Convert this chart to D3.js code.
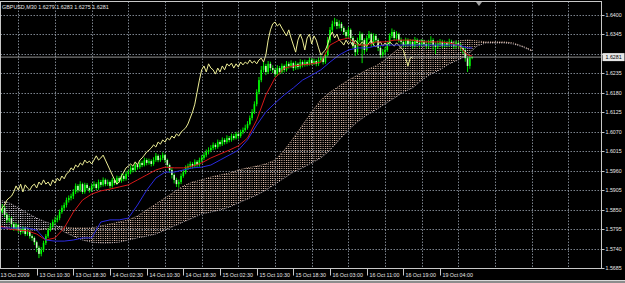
<!DOCTYPE html>
<html>
<head>
<meta charset="utf-8">
<script src="https://cdn.jsdelivr.net/npm/d3@7"></script>
<style>
  html, body { margin: 0; padding: 0; background: #000; }
  svg { display: block; }
  text { font-family: "Liberation Sans", Arial, sans-serif; }
</style>
</head>
<body>
<div id="chart"></div>
<script>
// ---- data (prices in pips, 1 pip = 0.0001) ----
const symbolTitle = 'GBPUSD,M30  1.6279 1.6283 1.6275 1.6281';
const bidPrice = 1.6281;
const priceLabels = ['1.6400', '1.6345', '1.6290', '1.6235', '1.6180', '1.6125', '1.6070',
  '1.6015', '1.5960', '1.5905', '1.5850', '1.5795', '1.5740', '1.5685'];
const timeLabels = ['13 Oct 2009', '13 Oct 10:30', '13 Oct 18:30', '14 Oct 02:30', '14 Oct 10:30',
  '14 Oct 18:30', '15 Oct 02:30', '15 Oct 10:30', '15 Oct 18:30', '16 Oct 03:00',
  '16 Oct 11:00', '16 Oct 19:00', '19 Oct 04:00'];
const barsPerLabel = 16;

const firstOpen = 15850;
const closes = [
  15843, 15855, 15835, 15821, 15826, 15809, 15798, 15807, 15792, 15787,
  15798, 15781, 15787, 15775, 15770, 15758, 15742, 15725, 15736, 15756,
  15775, 15792, 15804, 15815, 15821, 15826, 15843, 15855, 15863, 15877,
  15883, 15888, 15900, 15917, 15905, 15922, 15900, 15920, 15911, 15905,
  15917, 15922, 15911, 15928, 15920, 15934, 15922, 15928, 15917, 15934,
  15925, 15939, 15931, 15945, 15937, 15951, 15956, 15968, 15962, 15976,
  15970, 15982, 15976, 15990, 15982, 15987, 15979, 15990, 16002, 15990,
  15996, 16004, 15990, 15976, 15962, 15948, 15934, 15922, 15928, 15945,
  15956, 15968, 15973, 15979, 15973, 15985, 15976, 15990, 15996, 16004,
  16013, 16018, 16024, 16033, 16027, 16041, 16035, 16047, 16041, 16052,
  16047, 16058, 16052, 16064, 16058, 16069, 16075, 16081, 16092, 16109,
  16126, 16148, 16182, 16216, 16245, 16256, 16239, 16262, 16250, 16245,
  16233, 16250, 16239, 16256, 16245, 16262, 16256, 16264, 16250, 16262,
  16253, 16267, 16259, 16267, 16262, 16273, 16264, 16270, 16262, 16273,
  16278, 16267, 16287, 16329, 16358, 16375, 16380, 16369, 16375, 16363,
  16352, 16341, 16358, 16335, 16315, 16295, 16329, 16346, 16329, 16301,
  16335, 16346, 16318, 16341, 16329, 16307, 16287, 16295, 16301, 16318,
  16341, 16352, 16335, 16346, 16329, 16324, 16315, 16329, 16318, 16324,
  16312, 16329, 16321, 16315, 16324, 16318, 16312, 16321, 16329, 16315,
  16310, 16318, 16324, 16312, 16321, 16315, 16324, 16318, 16312, 16321,
  16315, 16307, 16301, 16278, 16256, 16279, 16281
];
const highs = [
  15862, 15866, 15860, 15840, 15835, 15830, 15815, 15812, 15810, 15798,
  15803, 15801, 15794, 15790, 15780, 15774, 15762, 15748, 15744, 15762,
  15781, 15798, 15812, 15822, 15830, 15834, 15850, 15862, 15870, 15884,
  15890, 15895, 15908, 15924, 15922, 15930, 15926, 15926, 15925, 15916,
  15924, 15930, 15927, 15935, 15934, 15941, 15938, 15935, 15932, 15940,
  15938, 15946, 15944, 15952, 15950, 15958, 15963, 15975, 15973, 15983,
  15980, 15990, 15988, 15997, 15995, 15994, 15992, 15998, 16010, 16006,
  16004, 16012, 16008, 15994, 15980, 15968, 15952, 15940, 15935, 15952,
  15963, 15975, 15980, 15986, 15984, 15992, 15990, 15997, 16004, 16012,
  16020, 16026, 16032, 16040, 16038, 16048, 16046, 16054, 16052, 16060,
  16058, 16065, 16064, 16070, 16068, 16076, 16082, 16090, 16100, 16116,
  16134, 16156, 16190, 16225, 16256, 16268, 16262, 16270, 16268, 16258,
  16250, 16258, 16256, 16263, 16260, 16270, 16268, 16272, 16268, 16270,
  16266, 16275, 16272, 16274, 16272, 16280, 16278, 16277, 16275, 16280,
  16286, 16283, 16295, 16338, 16366, 16384, 16392, 16388, 16385, 16380,
  16368, 16358, 16366, 16362, 16340, 16320, 16336, 16354, 16350, 16334,
  16342, 16355, 16350, 16348, 16346, 16334, 16312, 16304, 16310, 16325,
  16348, 16362, 16358, 16354, 16350, 16336, 16330, 16336, 16334, 16332,
  16330, 16338, 16334, 16328, 16332, 16330, 16325, 16330, 16340, 16334,
  16322, 16328, 16332, 16330, 16328, 16326, 16333, 16330, 16322, 16328,
  16326, 16320, 16312, 16306, 16284, 16285, 16283
];
const lows = [
  15832, 15838, 15828, 15812, 15815, 15800, 15790, 15792, 15785, 15779,
  15782, 15775, 15776, 15768, 15762, 15750, 15730, 15713, 15718, 15730,
  15750, 15770, 15788, 15798, 15808, 15814, 15820, 15838, 15848, 15856,
  15870, 15876, 15880, 15894, 15898, 15900, 15894, 15895, 15905, 15898,
  15900, 15910, 15905, 15906, 15913, 15915, 15916, 15917, 15910, 15912,
  15919, 15920, 15925, 15926, 15930, 15932, 15945, 15950, 15955, 15957,
  15963, 15965, 15970, 15972, 15975, 15977, 15972, 15974, 15985, 15984,
  15985, 15990, 15982, 15968, 15954, 15938, 15924, 15914, 15912, 15922,
  15940, 15950, 15962, 15966, 15966, 15968, 15970, 15971, 15984, 15990,
  15998, 16006, 16012, 16018, 16020, 16022, 16028, 16030, 16034, 16036,
  16040, 16042, 16046, 16048, 16050, 16053, 16063, 16070, 16076, 16088,
  16102, 16120, 16142, 16176, 16210, 16238, 16230, 16233, 16242, 16236,
  16225, 16228, 16232, 16234, 16238, 16240, 16248, 16250, 16242, 16245,
  16246, 16248, 16252, 16254, 16255, 16257, 16258, 16259, 16255, 16256,
  16266, 16260, 16262, 16282, 16322, 16350, 16368, 16360, 16362, 16354,
  16344, 16332, 16336, 16326, 16306, 16284, 16288, 16322, 16264, 16290,
  16296, 16330, 16310, 16312, 16322, 16298, 16278, 16280, 16288, 16296,
  16312, 16335, 16328, 16330, 16322, 16316, 16308, 16310, 16312, 16312,
  16305, 16308, 16314, 16308, 16310, 16312, 16305, 16306, 16316, 16302,
  16290, 16304, 16312, 16306, 16308, 16309, 16310, 16312, 16304, 16306,
  16308, 16298, 16290, 16268, 16239, 16248, 16275
];

// Ichimoku lines, one value every 4 bars (tenkan/kijun end on the last bar)
const lineStep = 4;
const tenkan = [
  15804, 15795, 15792, 15790, 15781, 15764, 15770, 15798, 15843, 15877,
  15894, 15903, 15908, 15914, 15920, 15934, 15948, 15962, 15970, 15968,
  15968, 15973, 15982, 15996, 16007, 16018, 16030, 16052, 16103, 16174,
  16222, 16250, 16256, 16259, 16262, 16267, 16315, 16329, 16335, 16315,
  16315, 16324, 16324, 16329, 16329, 16329, 16324, 16324, 16324, 16321,
  16315, 16287, 16284
];
const kijun = [
  15798, 15798, 15798, 15798, 15792, 15764, 15761, 15761, 15764, 15770,
  15770, 15815, 15821, 15821, 15826, 15863, 15905, 15939, 15956, 15956,
  15962, 15968, 15970, 15976, 15990, 16004, 16018, 16047, 16089, 16126,
  16151, 16174, 16194, 16216, 16230, 16245, 16267, 16287, 16301, 16307,
  16307, 16312, 16315, 16315, 16315, 16315, 16315, 16315, 16315, 16315,
  16315, 16307, 16307
];
// Senkou spans, shifted 26 bars ahead, one value every 4 bars
const spanA = [
  15804, 15798, 15795, 15792, 15792, 15795, 15795, 15801, 15798, 15798,
  15798, 15804, 15809, 15815, 15821, 15832, 15849, 15866, 15883, 15900,
  15917, 15928, 15934, 15942, 15948, 15953, 15962, 15968, 15973, 15979,
  15990, 16018, 16052, 16089, 16126, 16160, 16182, 16199, 16216, 16230,
  16245, 16256, 16273, 16295, 16315, 16329, 16329, 16324, 16318, 16324,
  16327, 16329, 16327, 16324, 16324, 16324, 16321, 16312, 16301
];
const spanB = [
  15877, 15869, 15855, 15840, 15826, 15815, 15807, 15787, 15775, 15764,
  15758, 15756, 15756, 15758, 15764, 15770, 15775, 15781, 15792, 15804,
  15815, 15826, 15838, 15843, 15849, 15857, 15869, 15880, 15891, 15905,
  15922, 15939, 15956, 15968, 15982, 15996, 16018, 16047, 16075, 16098,
  16117, 16132, 16149, 16165, 16182, 16194, 16216, 16233, 16245, 16262,
  16273, 16287, 16312, 16321, 16321, 16321, 16318, 16310, 16298
];
const chikouShift = 26;

// ---- layout ----
const W = 625, H = 283;
const frame = { left: 0.5, top: 1.5, right: 601.5, bottom: 268.5 };
const colors = {
  bg: '#000000', grid: '#9aa3b0', frame: '#c8c8c8', text: '#e8e8e8',
  candle: '#00ff00', bearBody: '#c8ffc0', tenkan: '#d81818', kijun: '#2a2ae0',
  chikou: '#eeee96', kumoBull: '#ecc8b4', kumoBear: '#dcd2dc', bid: '#b8b8b8'
};

const pip = (v) => v / 10000;
const nBars = closes.length;

const x = d3.scaleLinear().domain([0, barsPerLabel]).range([0, 36.67]);
const y = d3.scaleLinear().domain([1.5685, 1.6400]).range([268, 15]);
const barW = x(1) - x(0);
const bidY = y(bidPrice);

const svg = d3.select('#chart').append('svg')
  .attr('width', W).attr('height', H);

svg.append('rect').attr('width', W).attr('height', H).attr('fill', colors.bg);

const defs = svg.append('defs');
defs.append('clipPath').attr('id', 'plotClip')
  .append('rect')
  .attr('x', frame.left).attr('y', frame.top)
  .attr('width', frame.right - frame.left).attr('height', frame.bottom - frame.top);

[['kumoBull', colors.kumoBull], ['kumoBear', colors.kumoBear]].forEach(([id, c]) => {
  const p = defs.append('pattern').attr('id', id)
    .attr('patternUnits', 'userSpaceOnUse')
    .attr('x', x(0) - 0.5).attr('y', 0)
    .attr('width', barW).attr('height', 2);
  p.append('rect').attr('width', 1).attr('height', 1).attr('fill', c);
});

const plot = svg.append('g').attr('clip-path', 'url(#plotClip)');

// grid
const priceVals = priceLabels.map(Number);
plot.append('g').selectAll('line').data(priceVals).join('line')
  .attr('x1', frame.left).attr('x2', frame.right)
  .attr('y1', (d) => Math.round(y(d)) + 0.5).attr('y2', (d) => Math.round(y(d)) + 0.5)
  .attr('stroke', colors.grid).attr('stroke-width', 0.8)
  .attr('stroke-dasharray', '1.5,1.5');

const gridBars = d3.range(barsPerLabel / 2, x.invert(frame.right), barsPerLabel);
plot.append('g').selectAll('line').data(gridBars).join('line')
  .attr('x1', (d) => Math.round(x(d)) + 0.5).attr('x2', (d) => Math.round(x(d)) + 0.5)
  .attr('y1', frame.top).attr('y2', frame.bottom)
  .attr('stroke', colors.grid).attr('stroke-width', 0.8)
  .attr('stroke-dasharray', '1.5,1.5');

// kumo
const kumo = spanA.map((a, i) => ({ bar: i * lineStep, a: pip(a), b: pip(spanB[i]) }));
const bullArea = d3.area()
  .x((d) => x(d.bar))
  .y0((d) => y(d.b))
  .y1((d) => y(Math.max(d.a, d.b)));
const bearArea = d3.area()
  .x((d) => x(d.bar))
  .y0((d) => y(d.a))
  .y1((d) => y(Math.max(d.a, d.b)));
plot.append('path').datum(kumo).attr('d', bullArea).attr('fill', 'url(#kumoBull)');
plot.append('path').datum(kumo).attr('d', bearArea).attr('fill', 'url(#kumoBear)');
const spanLine = (key) => d3.line().x((d) => x(d.bar)).y((d) => y(d[key]));
plot.append('path').datum(kumo).attr('d', spanLine('a'))
  .attr('fill', 'none').attr('stroke', colors.kumoBull).attr('stroke-width', 0.8)
  .attr('stroke-dasharray', '1,1.3');
plot.append('path').datum(kumo).attr('d', spanLine('b'))
  .attr('fill', 'none').attr('stroke', colors.kumoBear).attr('stroke-width', 0.8)
  .attr('stroke-dasharray', '1,1.3');

// candles
const bars = closes.map((c, i) => ({
  i,
  o: pip(i === 0 ? firstOpen : closes[i - 1]),
  c: pip(c),
  h: pip(highs[i]),
  l: pip(lows[i])
}));
const candleG = plot.append('g');
candleG.selectAll('line').data(bars).join('line')
  .attr('x1', (d) => x(d.i)).attr('x2', (d) => x(d.i))
  .attr('y1', (d) => y(d.h)).attr('y2', (d) => y(d.l))
  .attr('stroke', colors.candle).attr('stroke-width', 0.9);
candleG.selectAll('rect').data(bars).join('rect')
  .attr('x', (d) => x(d.i) - 0.8)
  .attr('width', 1.6)
  .attr('y', (d) => y(Math.max(d.o, d.c)))
  .attr('height', (d) => Math.max(0.8, Math.abs(y(d.o) - y(d.c))))
  .attr('fill', (d) => (d.c >= d.o ? colors.candle : colors.bearBody));

// indicator lines
const lineBars = d3.range(0, nBars - 1, lineStep).concat([nBars - 1]);
const seriesLine = d3.line().x((d) => x(d[0])).y((d) => y(d[1]));
const drawLine = (pts, color) => plot.append('path').datum(pts)
  .attr('d', seriesLine).attr('fill', 'none')
  .attr('stroke', color).attr('stroke-width', 1);

drawLine(closes.slice(chikouShift).map((c, i) => [i, pip(c)]), colors.chikou);
drawLine(tenkan.map((v, i) => [lineBars[i], pip(v)]), colors.tenkan);
drawLine(kijun.map((v, i) => [lineBars[i], pip(v)]), colors.kijun);

// bid line
plot.append('line')
  .attr('x1', frame.left).attr('x2', frame.right)
  .attr('y1', bidY).attr('y2', bidY)
  .attr('stroke', colors.bid).attr('stroke-width', 0.8);

// frame
svg.append('rect')
  .attr('x', frame.left).attr('y', frame.top)
  .attr('width', frame.right - frame.left).attr('height', frame.bottom - frame.top)
  .attr('fill', 'none').attr('stroke', colors.frame).attr('stroke-width', 1);

// price axis (the level hidden under the bid box is not labelled)
const shownLabels = priceLabels.filter((d) => Math.abs(y(+d) - bidY) > 8);
const yAxis = svg.append('g');
yAxis.selectAll('line').data(priceVals).join('line')
  .attr('x1', frame.right).attr('x2', frame.right + 3)
  .attr('y1', (d) => Math.round(y(d)) + 0.5).attr('y2', (d) => Math.round(y(d)) + 0.5)
  .attr('stroke', colors.frame);
yAxis.selectAll('text').data(shownLabels).join('text')
  .attr('x', frame.right + 4)
  .attr('y', (d) => y(+d) + 2)
  .attr('fill', colors.text)
  .attr('font-size', 5.3)
  .text((d) => d);

svg.append('rect')
  .attr('x', frame.right + 1).attr('y', bidY - 4)
  .attr('width', 22).attr('height', 8)
  .attr('fill', '#e6e6e6');
svg.append('text')
  .attr('x', frame.right + 4).attr('y', bidY + 2)
  .attr('fill', '#000').attr('font-size', 5.3)
  .text(bidPrice.toFixed(4));

// time axis
const timeG = svg.append('g');
timeLabels.forEach((t, k) => {
  const tx = Math.round(x(k * barsPerLabel)) + 0.5;
  if (k > 0) {
    timeG.append('line')
      .attr('x1', tx).attr('x2', tx)
      .attr('y1', frame.bottom).attr('y2', frame.bottom + 7)
      .attr('stroke', colors.frame);
  }
  timeG.append('text')
    .attr('x', tx + (k > 0 ? 2 : 0)).attr('y', 276.5)
    .attr('fill', colors.text).attr('font-size', 5.3)
    .text(t);
});

// title
svg.append('text')
  .attr('x', 2).attr('y', 8.5)
  .attr('fill', colors.text).attr('font-size', 5.4)
  .text(symbolTitle);

// chart shift marker
const shiftX = x(nBars + 2);
svg.append('path')
  .attr('d', `M${shiftX - 3},2L${shiftX + 3},2L${shiftX},6Z`)
  .attr('fill', '#a0a0a0');

// window bottom edge
svg.append('rect').attr('x', 0).attr('y', 280).attr('width', W).attr('height', 3)
  .attr('fill', '#8c8c8c');
svg.append('line').attr('x1', 0).attr('x2', W).attr('y1', 280.5).attr('y2', 280.5)
  .attr('stroke', '#d8d8d8');
</script>
</body>
</html>
